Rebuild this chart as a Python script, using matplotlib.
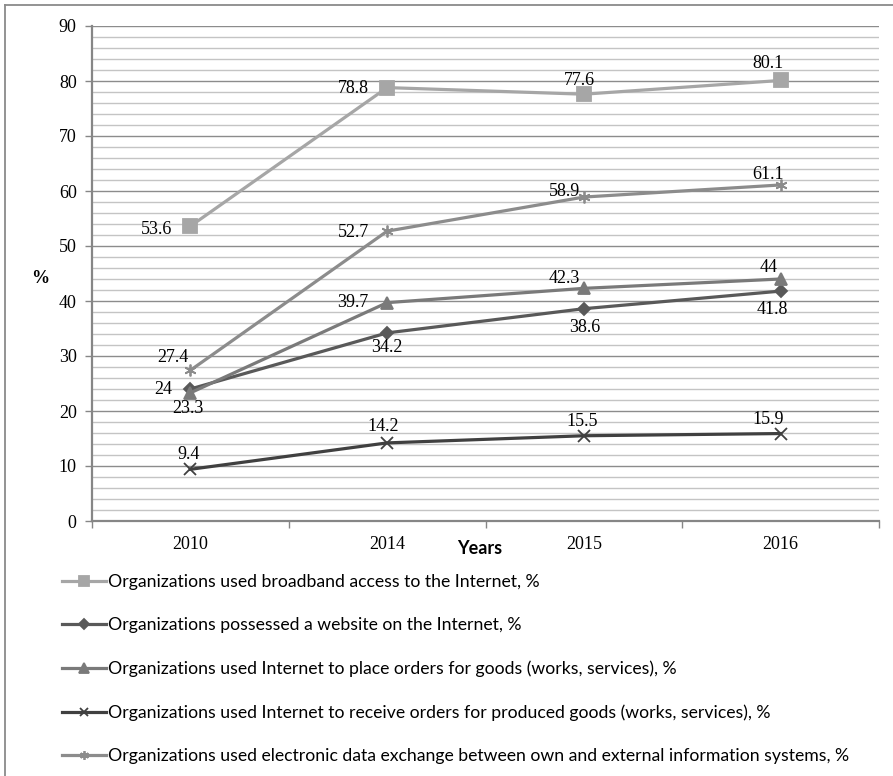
import matplotlib
matplotlib.use("Agg")
import matplotlib.pyplot as plt
from matplotlib.lines import Line2D
from matplotlib.ticker import MultipleLocator, FixedLocator, NullFormatter

years = ["2010", "2014", "2015", "2016"]
broadband = [53.6, 78.8, 77.6, 80.1]
website = [24, 34.2, 38.6, 41.8]
place_orders = [23.3, 39.7, 42.3, 44]
receive_orders = [9.4, 14.2, 15.5, 15.9]
edi = [27.4, 52.7, 58.9, 61.1]

labels = [
    "Organizations used broadband access to the Internet, %",
    "Organizations possessed a website on the Internet, %",
    "Organizations used Internet to place orders for goods (works, services), %",
    "Organizations used Internet to receive orders for produced goods (works, services), %",
    "Organizations used electronic data exchange between own and external information systems, %",
]
y_label = "%"
x_label = "Years"

series = [broadband, website, place_orders, receive_orders, edi]
colors = ["#A6A6A6", "#595959", "#7A7A7A", "#404040", "#8C8C8C"]
markers = ["s", "D", "^", "x", (6, 2, 0)]
msizes = [9.5, 6.5, 9, 8, 8.5]
# data-label offsets in pixels (dx right, dy down) per point
offsets = [
    [(-34, 3), (-34, 1), (-4, -14), (-13, -17)],
    [(-27, 1), (0, 15), (1, 19), (-8, 18)],
    [(-2, 16), (-34, 0), (-20, -10), (-12, -11)],
    [(-2, -15), (-4, -16), (-2, -14), (-12, -14)],
    [(-17, -13), (-34, 1), (-19, -6), (-13, -10)],
]

W, H = 893, 776
fig = plt.figure(figsize=(W / 100, H / 100), dpi=100)
ax = fig.add_axes([92 / W, 1 - 521 / H, (879 - 92) / W, (521 - 26) / H])

x = list(range(len(years)))
px2pt = 72 / 100
serif = "Liberation Serif"

for s, c, m, ms, lab, offs in zip(series, colors, markers, msizes, labels, offsets):
    ax.plot(x, s, color=c, lw=2.3, marker=m, markersize=ms, markerfacecolor=c,
            markeredgecolor=c, markeredgewidth=1.3, label=lab, zorder=3)
    for xi, v, (dx, dy) in zip(x, s, offs):
        ax.annotate(f"{v:g}", (xi, v), xytext=(dx * px2pt, -dy * px2pt),
                    textcoords="offset points", ha="center", va="center",
                    fontsize=13, family=serif, color="black", zorder=4)

ax.set_xlim(-0.5, len(years) - 0.5)
ax.set_ylim(0, 90)
ax.xaxis.set_major_locator(FixedLocator([i - 0.5 for i in range(len(years) + 1)]))
ax.xaxis.set_major_formatter(NullFormatter())
ax.xaxis.set_minor_locator(FixedLocator(x))
ax.set_xticklabels(years, minor=True)
ax.tick_params(axis="x", which="major", length=5, width=1, color="#868686", direction="out")
ax.tick_params(axis="x", which="minor", length=0, pad=11, labelsize=13)
for t in ax.get_xticklabels(minor=True):
    t.set_family(serif)

ax.yaxis.set_major_locator(MultipleLocator(10))
ax.yaxis.set_minor_locator(MultipleLocator(2))
ax.tick_params(axis="y", which="major", length=5, width=1, color="#868686", direction="out", pad=6, labelsize=13)
ax.tick_params(axis="y", which="minor", length=0)
for t in ax.get_yticklabels():
    t.set_family(serif)

ax.grid(True, axis="y", which="major", color="#8C8C8C", lw=1.0, zorder=0)
ax.grid(True, axis="y", which="minor", color="#C4C4C4", lw=1.0, zorder=0)
ax.set_axisbelow(True)
for sp in ["top", "right"]:
    ax.spines[sp].set_visible(False)
for sp in ["left", "bottom"]:
    ax.spines[sp].set_color("#868686")
    ax.spines[sp].set_linewidth(1.6)

fig.text(40 / W, 1 - 278 / H, y_label, ha="center", va="center", fontsize=13,
         family=serif, fontweight="bold")
fig.text(480 / W, 1 - 549 / H, x_label, ha="center", va="center", fontsize=13,
         family="Lato", fontweight="bold")

handles, labs = ax.get_legend_handles_labels()
leg = fig.legend(handles, labs, loc="upper left", bbox_to_anchor=(62 / W, 1 - 574 / H),
                 frameon=False, prop={"family": "Lato", "size": 12.7},
                 handlelength=2.5, handletextpad=0.1, labelspacing=1.55,
                 borderaxespad=0, borderpad=0, markerscale=0.75)

# outer frame (left and top edges)
fig.add_artist(Line2D([5 / W, 5 / W], [0, 1 - 5 / H], transform=fig.transFigure,
                      color="#8A8A8A", lw=1.3))
fig.add_artist(Line2D([5 / W, 1], [1 - 5 / H, 1 - 5 / H], transform=fig.transFigure,
                      color="#8A8A8A", lw=1.3))

fig.savefig("out.png", dpi=100, facecolor="white")
